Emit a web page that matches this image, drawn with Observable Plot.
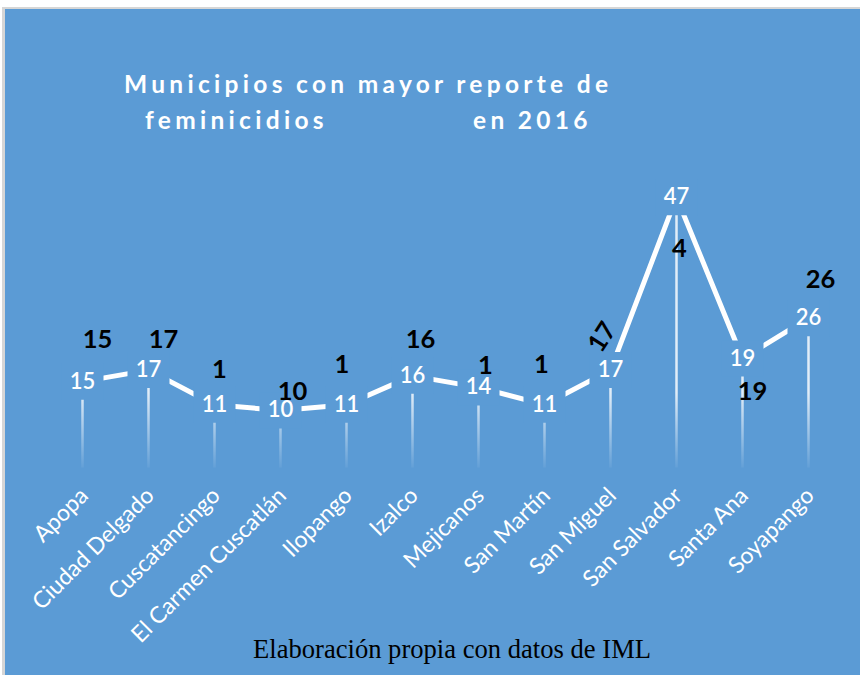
<!DOCTYPE html>
<html>
<head>
<meta charset="utf-8">
<script src="https://cdn.jsdelivr.net/npm/d3@7"></script>
<script src="https://cdn.jsdelivr.net/npm/@observablehq/plot@0.6"></script>
<style>
  html, body { margin: 0; padding: 0; background: #ffffff; }
  body { width: 860px; height: 675px; overflow: hidden; position: relative; }
  #frame {
    position: absolute; left: 2px; top: 7px; width: 855px; height: 666px;
    border-left: 3px solid #d6d6d6; border-top: 2px solid #d6d6d6;
    background: #5B9BD5; overflow: hidden;
  }
  .title {
    position: absolute; color: #ffffff; font-family: Lato, "Open Sans", sans-serif;
    font-weight: 700; font-size: 24.5px; line-height: 1.2; white-space: pre; letter-spacing: 4.3px;
  }
  #chart { position: absolute; left: 0; top: 151px; }
  #caption {
    position: absolute; left: 248px; top: 625px; font-family: "Liberation Serif", "DejaVu Serif", serif;
    font-size: 26.6px; line-height: 30px; color: #000000; white-space: pre;
  }
</style>
</head>
<body>
<div id="frame">
  <div class="title" id="t1" style="left:119px; top:60px;">Municipios con mayor reporte de</div>
  <div class="title" id="t2a" style="left:140px; top:96px;">feminicidios</div>
  <div class="title" id="t2b" style="left:468px; top:96px;">en 2016</div>
  <div id="chart"></div>
  <div id="caption">Elaboración propia con datos de IML</div>
</div>
<script>
// ---- data ----
const municipios = ["Apopa", "Ciudad Delgado", "Cuscatancingo", "El Carmen Cuscatlán", "Ilopango", "Izalco",
  "Mejicanos", "San Martín", "San Miguel", "San Salvador", "Santa Ana", "Soyapango"];
const feminicidios = [15, 17, 11, 10, 11, 16, 14, 11, 17, 47, 19, 26];
// stray black labels seen on the picture (text, value level where they sit, horizontal nudge)
const extraText = ["15", "17", "1", "10", "1", "16", "1", "1", "17", "4", "19", "26"];
const extraLevel = [22.3, 22.3, 17.0, 13.3, 17.85, 22.3, 17.8, 17.9, 22.7, 38.0, 13.3, 32.7];
const extraNudge = [15, 15, 5, 12, -4.5, 8, 7, -3, -8, 3, 10, 12];

const BLUE = "#5B9BD5";
const rows = municipios.map((m, i) => ({m, v: feminicidios[i]}));

// adjust word gaps of the title so line 1 spans the reference width
(function () {
  const t1 = document.getElementById("t1");
  const w = t1.getBoundingClientRect().width;
  const ws = (484 + 4.3 - w) / 4;
  for (const id of ["t1", "t2a", "t2b"]) document.getElementById(id).style.wordSpacing = ws + "px";
})();

const labelBox = {draw(ctx) { ctx.rect(-21, -18, 42, 36); }};

const extraMarks = extraText.map((t, i) => Plot.text([i], {
  x: () => municipios[i], y: () => extraLevel[i], text: () => t,
  dx: extraNudge[i], fill: "#000000", fontSize: 25.5, fontWeight: 700,
  rotate: municipios[i] === "San Miguel" ? -57 : 0
}));

const plot = Plot.plot({
  width: 855, height: 470,
  marginLeft: 77, marginRight: 52, marginTop: 19.35, marginBottom: 162.4,
  style: {background: "transparent", fontFamily: "Lato, 'Open Sans', sans-serif", overflow: "visible"},
  x: {type: "point", domain: municipios, padding: 0, axis: null},
  y: {domain: [0, 50], axis: null},
  marks: [
    Plot.ruleX(rows, {x: "m", y1: 0, y2: "v", stroke: "url(#dropGrad)", strokeWidth: 2.5}),
    Plot.line(rows, {x: "m", y: "v", stroke: "#ffffff", strokeWidth: 5, strokeLinejoin: "miter"}),
    Plot.dot(rows, {x: "m", y: "v", symbol: labelBox, r: 10, fill: BLUE, stroke: "none"}),
    Plot.text(rows, {x: "m", y: "v", text: d => String(d.v), fill: "#ffffff", fontSize: 22, fontWeight: 600}),
    ...extraMarks,
    Plot.text(municipios, {x: d => d, frameAnchor: "bottom", text: d => d, rotate: -45, textAnchor: "end",
      dx: 7, dy: 29, fill: "#ffffff", fontSize: 23})
  ]
});

const y = plot.scale("y");
const svg = d3.select(plot);
const defs = svg.insert("defs", ":first-child");
const g = defs.append("linearGradient").attr("id", "dropGrad").attr("gradientUnits", "userSpaceOnUse")
  .attr("x1", 0).attr("x2", 0).attr("y1", y.apply(13)).attr("y2", y.apply(0));
g.append("stop").attr("offset", 0).attr("stop-color", "#ffffff").attr("stop-opacity", 0.82);
g.append("stop").attr("offset", 1).attr("stop-color", "#ffffff").attr("stop-opacity", 0.05);

document.getElementById("chart").appendChild(plot);
</script>
</body>
</html>
